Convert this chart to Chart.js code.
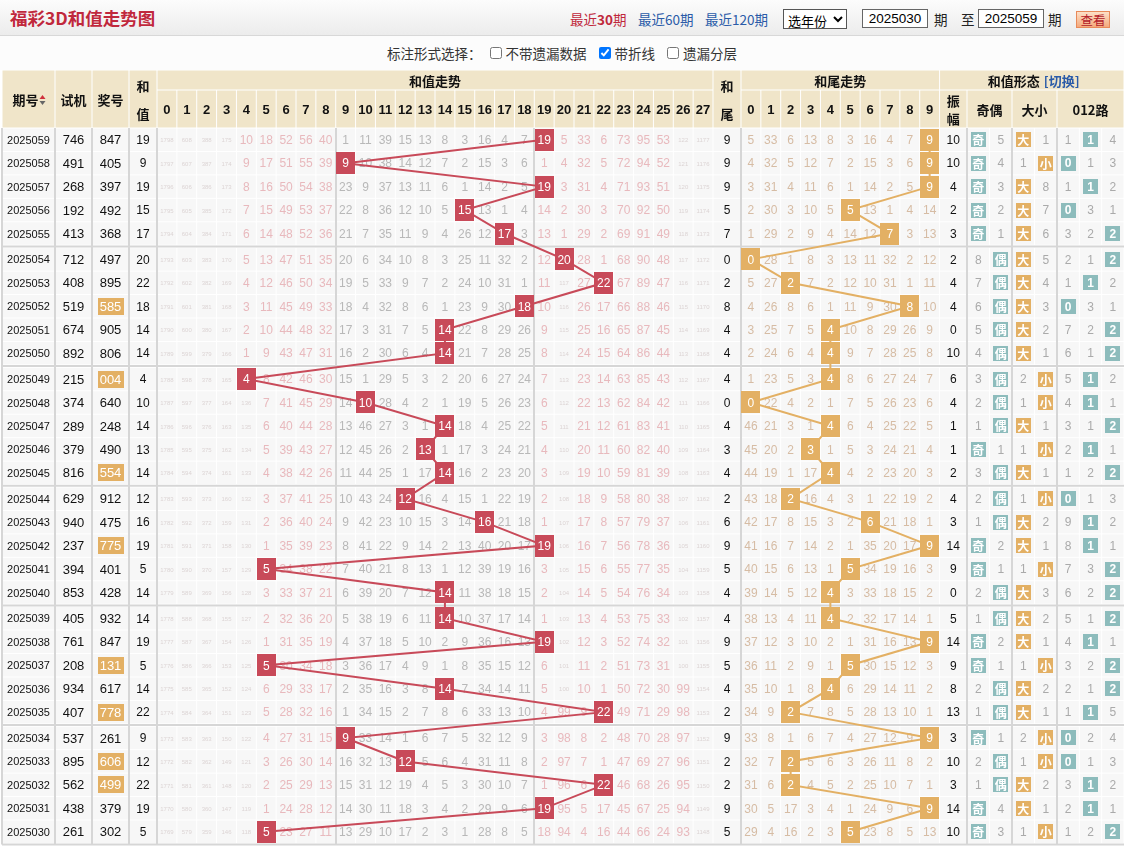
<!DOCTYPE html>
<html lang="zh-CN">
<head>
<meta charset="UTF-8">
<title>福彩3D和值走势图</title>
<script src="https://cdn.jsdelivr.net/npm/chart.js"></script>
<style>
  html, body { margin: 0; padding: 0; background: #fff; }
  body { width: 1124px; height: 847px; overflow: hidden; position: relative;
         font-family: "Noto Sans CJK SC", sans-serif; color: #222; }
  #top { position: absolute; left: 0; top: 0; width: 1124px; height: 36px; box-sizing: border-box;
         background: linear-gradient(#fcfcfc, #ececec); border-bottom: 1px solid #d8d8d8; }
  .abs { position: absolute; white-space: nowrap; line-height: 20px; font-size: 13.5px; }
  .title { left: 10px; top: 7px; font-size: 17.5px; font-weight: bold; color: #c0283c; line-height: 22px;
           text-shadow: 0 0 1px #fff; }
  .cur { color: #c0283c; }
  .cur b { font-weight: bold; }
  .lnk { color: #2a5ba8; }
  select { position: absolute; left: 783px; top: 9px; width: 64px; height: 20px; font-size: 13px;
           font-family: "Noto Sans CJK SC", sans-serif; padding: 0; border: 1px solid #555; background: #fff; }
  input.t { position: absolute; top: 9px; width: 64px; height: 17px; font-size: 13.5px; border: 1px solid #666;
            font-family: "Liberation Sans", sans-serif; text-align: center; padding: 0; }
  .btn { position: absolute; left: 1076px; top: 11px; width: 34px; height: 17px; box-sizing: border-box;
         border: 1px solid #e88a5a; background: linear-gradient(#fde0c8, #f4a97c); color: #b3202a;
         font-size: 12.5px; line-height: 15px; text-align: center; }
  #opts { position: absolute; left: 0; top: 36px; width: 1124px; height: 34px; background: #fcfcfc;
          display: flex; justify-content: center; align-items: center; font-size: 13.5px; color: #333; }
  #opts label { display: inline-flex; align-items: center; margin-left: 8px; }
  #opts input { margin: 0 4px 0 0; width: 12px; height: 12px; }
  #chart { position: absolute; left: 0; top: 70px; }
</style>
</head>
<body>
  <div id="top">
    <span class="abs title">福彩3D和值走势图</span>
    <span class="abs cur" style="left:570px;top:9px">最近<b>30</b>期</span>
    <span class="abs lnk" style="left:638px;top:9px">最近60期</span>
    <span class="abs lnk" style="left:705px;top:9px">最近120期</span>
    <select><option>选年份</option></select>
    <input class="t" style="left:862px" value="2025030">
    <span class="abs" style="left:934px;top:9px">期</span>
    <span class="abs" style="left:961px;top:9px">至</span>
    <input class="t" style="left:978px" value="2025059">
    <span class="abs" style="left:1048px;top:9px">期</span>
    <div class="btn">查看</div>
  </div>
  <div id="opts">
    <span>标注形式选择：</span>
    <label><input type="checkbox">不带遗漏数据</label>
    <label style="margin-left:12px"><input type="checkbox" checked>带折线</label>
    <label style="margin-left:12px"><input type="checkbox">遗漏分层</label>
  </div>
  <canvas id="chart" width="1124" height="777"></canvas>

<script>
// ---- data, newest issue first ----
const issues = ['2025059','2025058','2025057','2025056','2025055','2025054','2025053','2025052','2025051','2025050',
                '2025049','2025048','2025047','2025046','2025045','2025044','2025043','2025042','2025041','2025040',
                '2025039','2025038','2025037','2025036','2025035','2025034','2025033','2025032','2025031','2025030'];
const trials = ['746','491','268','192','413','712','408','519','674','892','215','374','289','379','816',
                '629','940','237','394','853','405','761','208','934','407','537','895','562','438','261'];
const draws  = ['847','405','397','492','368','497','895','585','905','806','004','640','248','490','554',
                '912','475','775','401','428','932','847','131','617','778','261','606','499','379','302'];
const sums   = [19,9,19,15,17,20,22,18,14,14,4,10,14,13,14,12,16,19,5,14,14,19,5,14,22,9,12,22,19,5];
const tails  = [9,9,9,5,7,0,2,8,4,4,4,0,4,3,4,2,6,9,5,4,4,9,5,4,2,9,2,2,9,5];
const amps   = [10,10,4,2,3,2,4,4,0,10,6,4,1,1,2,4,3,14,9,0,5,14,9,8,13,3,10,3,14,10];

// omission counts shown on the oldest row (2025030); the rows above count on from them
const sumMissStart  = [1769,579,359,146,118,0,23,27,11,13,29,10,17,2,3,1,28,8,5,18,94,4,16,44,66,24,93,1148];
const tailMissStart = [29,4,16,2,3,0,23,8,5,13];
const oeMissStart   = [0,3];     // 奇, 偶
const bsMissStart   = [1,0];     // 大, 小
const roadMissStart = [1,2,0];   // 0, 1, 2 路

const sumTicks  = Array.from({length: 28}, (_, i) => String(i));
const tailTicks = ['0','1','2','3','4','5','6','7','8','9'];

// ---- layout ----
const W = 556 / 28;        // px per grid column
const ROW = 23.45;         // px per row
const HEAD = 58, SUB = 20, GAP = 2.4;
const u = p => (p - 157) / W;
const v = p => p / ROW;
const COL = {
  issue: [u(2), u(55)], trial: [u(55), u(92)], draw: [u(92), u(129)], sum: [u(129), u(157)],
  tail: [28, 28 + 28 / W]
};
const TT0 = COL.tail[1];
COL.amp = [TT0 + 10, u(967)];
COL.oe = [u(967), u(1012)];
COL.bs = [u(1012), u(1057)];
COL.road = [u(1057), u(1124)];
const split = (seg, n) => Array.from({length: n}, (_, k) =>
  [seg[0] + (seg[1] - seg[0]) * k / n, seg[0] + (seg[1] - seg[0]) * (k + 1) / n]);
const OE = split(COL.oe, 2), BS = split(COL.bs, 2), ROAD = split(COL.road, 3);
const mid = s => (s[0] + s[1]) / 2;
const HDR = v(HEAD);
const rowTop = i => HDR + i + Math.floor(i / 5) * v(GAP);

const RED = '#c84a59', ORANGE = '#e3b064', TEAL = '#8dbcbc';
const HEAD_BG = '#f0e5c9', CELL_BG = '#f7f7f7', LINE = '#d6d6d6';
const NUM = "'Liberation Sans', 'Noto Sans CJK SC', sans-serif";

// ---- omission grids ----
const N = issues.length;
function missGrid(hit, start) {
  const g = new Array(N);
  g[N - 1] = start.slice();
  for (let i = N - 2; i >= 0; i--) g[i] = g[i + 1].map((m, c) => c === hit[i] ? 0 : m + 1);
  return g;
}
const oeHit = sums.map(s => s % 2 === 1 ? 0 : 1);
const bsHit = sums.map(s => s >= 14 ? 0 : 1);
const roadHit = sums.map(s => s % 3);
const sumMiss = missGrid(sums, sumMissStart);
const tailMiss = missGrid(tails, tailMissStart);
const oeMiss = missGrid(oeHit, oeMissStart);
const bsMiss = missGrid(bsHit, bsMissStart);
const roadMiss = missGrid(roadHit, roadMissStart);

function box(w, h, color) {
  const c = document.createElement('canvas');
  c.width = w; c.height = h;
  const g = c.getContext('2d');
  g.fillStyle = color; g.fillRect(0, 0, w, h);
  return c;
}
const redBox = box(19, 22, RED), tailBox = box(19, 22, ORANGE);
const tealBadge = box(15, 15, TEAL), orangeBadge = box(15, 15, ORANGE), drawBox = box(26, 17, ORANGE);

const sumPts = sums.map((s, i) => ({x: s + 0.5, y: rowTop(i) + 0.5, label: String(s)}));
const tailPts = tails.map((t, i) => ({x: TT0 + t + 0.5, y: rowTop(i) + 0.5, label: String(t)}));
const badgePts = [];
sums.forEach((s, i) => {
  const y = rowTop(i) + 0.5;
  badgePts.push({x: mid(OE[oeHit[i]]), y, label: oeHit[i] ? '偶' : '奇', c: 't'});
  badgePts.push({x: mid(BS[bsHit[i]]), y, label: bsHit[i] ? '小' : '大', c: 'o'});
  badgePts.push({x: mid(ROAD[roadHit[i]]), y, label: String(roadHit[i]), c: 't'});
});
const drawPts = draws.map((d, i) => ({d, i})).filter(o => new Set(o.d).size < 3)
  .map(o => ({x: mid(COL.draw), y: rowTop(o.i) + 0.5, label: o.d}));

function text(ctx, s, x, y, font, color) {
  ctx.font = font; ctx.fillStyle = color;
  ctx.fillText(s, x, y);
}

const tablePlugin = {
  id: 'table',
  beforeDatasetsDraw(chart) {
    const ctx = chart.ctx;
    const X = a => chart.scales.x.getPixelForValue(a);
    const Y = a => chart.scales.y.getPixelForValue(a);
    const cell = (s, y0, y1, bg) => {
      ctx.fillStyle = bg;
      ctx.fillRect(X(s[0]) + 0.5, Y(y0) + 0.5, X(s[1]) - X(s[0]) - 1, Y(y1) - Y(y0) - 1);
    };
    ctx.save();
    ctx.fillStyle = '#fff';
    ctx.fillRect(0, 0, chart.width, chart.height);
    ctx.textAlign = 'center';
    ctx.textBaseline = 'middle';

    // header
    const h1 = v(SUB);
    [COL.issue, COL.trial, COL.draw, COL.sum, COL.tail].forEach(s => cell(s, 0, HDR, HEAD_BG));
    cell([0, 28], 0, h1, HEAD_BG);
    cell([TT0, TT0 + 10], 0, h1, HEAD_BG);
    cell([TT0 + 10, COL.road[1]], 0, h1, HEAD_BG);
    const sumCols = sumTicks.map((_, k) => [k, k + 1]);
    const tailCols = tailTicks.map((_, k) => [TT0 + k, TT0 + k + 1]);
    [...sumCols, ...tailCols, COL.amp, COL.oe, COL.bs, COL.road].forEach(s => cell(s, h1, HDR, HEAD_BG));

    const hb = "bold 13px 'Noto Sans CJK SC', sans-serif";
    const yh = Y(HDR / 2) + 1, ya = Y(h1 / 2) + 1, yb = Y((h1 + HDR) / 2) + 1;
    text(ctx, '期号', X(mid(COL.issue)) - 3, yh, hb, '#111');
    const ix = X(mid(COL.issue)) + 14;
    ctx.fillStyle = '#d0303c';
    ctx.beginPath(); ctx.moveTo(ix - 3, yh - 1); ctx.lineTo(ix + 3, yh - 1); ctx.lineTo(ix, yh - 5); ctx.fill();
    ctx.fillStyle = '#666';
    ctx.beginPath(); ctx.moveTo(ix - 3, yh + 1); ctx.lineTo(ix + 3, yh + 1); ctx.lineTo(ix, yh + 5); ctx.fill();
    text(ctx, '试机', X(mid(COL.trial)), yh, hb, '#111');
    text(ctx, '奖号', X(mid(COL.draw)), yh, hb, '#111');
    text(ctx, '和', X(mid(COL.sum)), yh - 14, hb, '#111');
    text(ctx, '值', X(mid(COL.sum)), yh + 14, hb, '#111');
    text(ctx, '和', X(mid(COL.tail)), yh - 14, hb, '#111');
    text(ctx, '尾', X(mid(COL.tail)), yh + 14, hb, '#111');
    text(ctx, '和值走势', X(14), ya, hb, '#111');
    text(ctx, '和尾走势', X(TT0 + 5), ya, hb, '#111');
    const fx = X((TT0 + 10 + COL.road[1]) / 2);
    text(ctx, '和值形态', fx - 18, ya, hb, '#111');
    text(ctx, '[切换]', fx + 30, ya, hb, '#2a5ba8');
    const db = 'bold 13px ' + NUM;
    sumTicks.forEach((t, k) => text(ctx, t, X(k + 0.5), yb, db, '#111'));
    tailTicks.forEach((t, k) => text(ctx, t, X(TT0 + k + 0.5), yb, db, '#111'));
    text(ctx, '振', X(mid(COL.amp)), yb - 9, hb, '#111');
    text(ctx, '幅', X(mid(COL.amp)), yb + 9, hb, '#111');
    text(ctx, '奇偶', X(mid(COL.oe)), yb, hb, '#111');
    text(ctx, '大小', X(mid(COL.bs)), yb, hb, '#111');
    text(ctx, '012路', X(mid(COL.road)), yb, hb, '#111');

    // body cells
    const bodyCols = [COL.issue, COL.trial, COL.draw, COL.sum, ...sumCols, COL.tail, ...tailCols,
                      COL.amp, ...OE, ...BS, ...ROAD];
    for (let i = 0; i < N; i++) bodyCols.forEach(s => cell(s, rowTop(i), rowTop(i) + 1, CELL_BG));

    // section lines
    ctx.strokeStyle = LINE;
    ctx.lineWidth = 2;
    const top = Y(HDR), bot = Y(rowTop(N - 1) + 1);
    [COL.issue[0], COL.trial[0], COL.draw[0], COL.sum[0], 0, 9, 19, TT0, COL.oe[0], COL.bs[0], COL.road[0]]
      .forEach(a => { ctx.beginPath(); ctx.moveTo(Math.round(X(a)), top); ctx.lineTo(Math.round(X(a)), bot + 1); ctx.stroke(); });
    for (let g = 5; g <= N; g += 5) {
      const yy = g < N ? (Y(rowTop(g - 1) + 1) + Y(rowTop(g))) / 2 : bot + 1;
      ctx.beginPath(); ctx.moveTo(X(COL.issue[0]), yy); ctx.lineTo(chart.width, yy); ctx.stroke();
    }

    // row texts
    for (let i = 0; i < N; i++) {
      const y = Y(rowTop(i) + 0.5) + 1;
      text(ctx, issues[i], X(mid(COL.issue)), y, '11px ' + NUM, '#111');
      text(ctx, trials[i], X(mid(COL.trial)), y, '13px ' + NUM, '#111');
      text(ctx, draws[i], X(mid(COL.draw)), y, '13px ' + NUM, '#111');
      text(ctx, String(sums[i]), X(mid(COL.sum)), y, '12px ' + NUM, '#111');
      sumMiss[i].forEach((m, k) => {
        if (k === sums[i]) return;
        const zone = k >= 9 && k <= 18 ? '#b8b8b8' : '#e8b9bd';
        if (m >= 100) text(ctx, String(m), X(k + 0.5), y, '6px ' + NUM, '#dcd4d4');
        else text(ctx, String(m), X(k + 0.5), y, '12px ' + NUM, zone);
      });
      text(ctx, String(tails[i]), X(mid(COL.tail)), y, '12px ' + NUM, '#111');
      tailMiss[i].forEach((m, k) => {
        if (k !== tails[i]) text(ctx, String(m), X(TT0 + k + 0.5), y, '12px ' + NUM, '#d6bca4');
      });
      text(ctx, String(amps[i]), X(mid(COL.amp)), y, '12px ' + NUM, '#111');
      const rest = (cells, miss, hit) => miss.forEach((m, k) => {
        if (k !== hit) text(ctx, String(m), X(mid(cells[k])), y, '12px ' + NUM, '#aaa');
      });
      rest(OE, oeMiss[i], oeHit[i]);
      rest(BS, bsMiss[i], bsHit[i]);
      rest(ROAD, roadMiss[i], roadHit[i]);
    }
    ctx.restore();
  },
  afterDatasetsDraw(chart) {
    const ctx = chart.ctx;
    ctx.save();
    ctx.textAlign = 'center';
    ctx.textBaseline = 'middle';
    chart.data.datasets.forEach((ds, di) => {
      chart.getDatasetMeta(di).data.forEach((el, j) => {
        const lab = ds.data[j].label;
        const font = /\d/.test(lab) ? (ds.label === 'draw' ? '13px ' : (ds.label === 'badge' ? 'bold 12px ' : '12px ')) + NUM
                                   : "bold 12px 'Noto Sans CJK SC', sans-serif";
        text(ctx, lab, el.x, el.y + 1, font, '#fff');
      });
    });
    ctx.restore();
  }
};

new Chart(document.getElementById('chart'), {
  type: 'line',
  data: {
    datasets: [
      { label: 'sum', data: sumPts, borderColor: RED, borderWidth: 2, pointStyle: redBox, pointRadius: 10, tension: 0, clip: false },
      { label: 'tail', data: tailPts, borderColor: ORANGE, borderWidth: 2, pointStyle: tailBox, pointRadius: 10, tension: 0, clip: false },
      { label: 'badge', data: badgePts, showLine: false, pointRadius: 8, clip: false,
        pointStyle: c => c.raw && c.raw.c === 'o' ? orangeBadge : tealBadge },
      { label: 'draw', data: drawPts, showLine: false, pointRadius: 10, pointStyle: drawBox, clip: false }
    ]
  },
  options: {
    responsive: false,
    animation: false,
    events: [],
    layout: { padding: 0, autoPadding: false },
    plugins: { legend: { display: false }, tooltip: { enabled: false } },
    scales: {
      x: { type: 'linear', display: false, min: u(0), max: u(1124) },
      y: { type: 'linear', display: false, reverse: true, min: 0, max: v(777) }
    }
  },
  plugins: [tablePlugin]
});
</script>
</body>
</html>
